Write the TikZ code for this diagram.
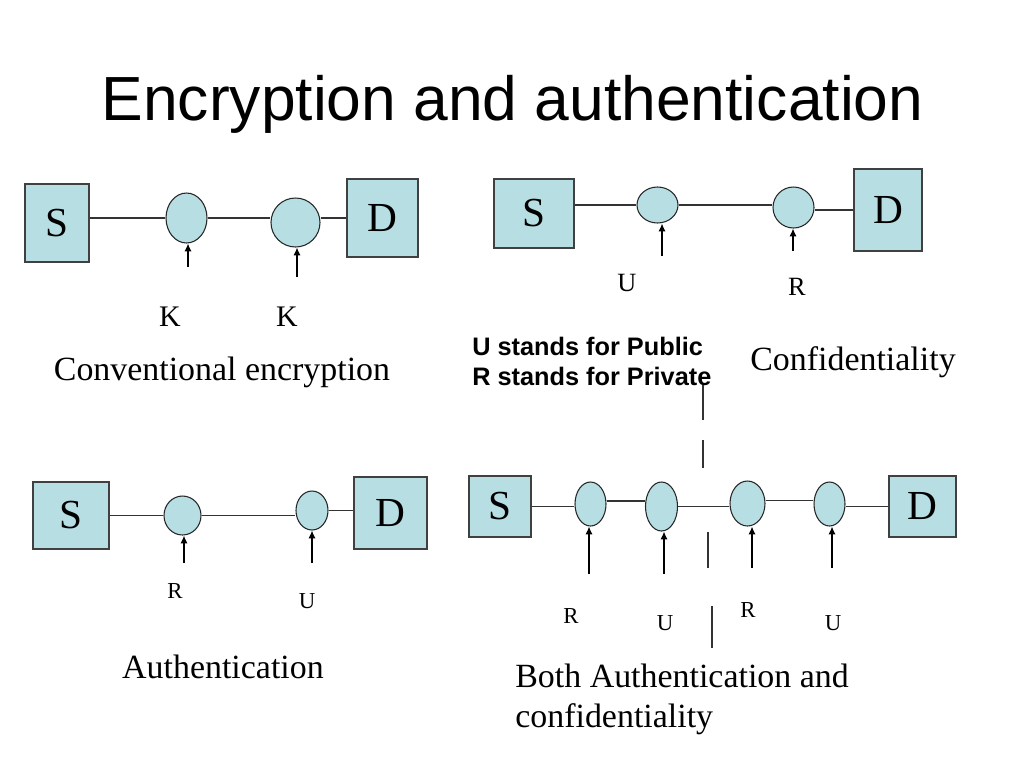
\documentclass[tikz,border=0pt]{standalone}
\usepackage{fontspec}
\setmainfont{Liberation Serif}
\newfontfamily\arialfont{Liberation Sans}
\usetikzlibrary{positioning}
\usetikzlibrary{shapes}
\usetikzlibrary{arrows.meta}
\definecolor{boxblue}{RGB}{183,222,227}

\begin{document}
\begin{tikzpicture}[x=0.02cm,y=-0.02cm,
    wh/.style 2 args={minimum width=#1*0.02cm,minimum height=#2*0.02cm},
    party/.style={draw=black!75,line width=0.7pt,fill=boxblue,inner sep=0pt,font=\fontsize{23.5}{24}\selectfont},
    cipher/.style={ellipse,draw=black!85,line width=0.6pt,fill=boxblue,inner sep=0pt},
    wire/.style={draw=black!80,line width=0.6pt},
    keyarrow/.style={-{Latex[length=4.5pt,width=4.2pt]},line width=0.8pt},
    keylabel/.style={anchor=base,inner sep=0pt,font=\fontsize{13}{13}\selectfont},
    caption/.style={anchor=base,inner sep=0pt,font=\fontsize{19.3}{23}\selectfont}]
    \path[fill=white] (0,0) rectangle (1024,768);
    \useasboundingbox (0,0) rectangle (1024,768);

    \node[anchor=base,inner sep=0pt,font=\arialfont\fontsize{35.5}{40}\selectfont] (title) at (512.5,120) {Encryption and authentication};

    % Conventional encryption
    \node[party,wh={64}{78}] (s1) at (57,223) {S};
    \node[cipher,wh={41}{50}] (k1a) at (186.5,218) {};
    \node[cipher,wh={49}{49}] (k1b) at (295.5,222.5) {};
    \node[party,wh={71}{78}] (d1) at (382.5,218) {D};
    \draw[wire] (s1.east |- k1a) -- (k1a.west);
    \draw[wire] (k1a.east) -- (k1b.west |- k1a);
    \draw[wire] (k1b.east |- d1) -- (d1.west);
    \coordinate (p1a) at (188,267);
    \coordinate (p1b) at (297,277);
    \draw[keyarrow] (p1a) -- (p1a |- k1a.south);
    \draw[keyarrow] (p1b) -- (p1b |- k1b.south);
    \node[keylabel,font=\fontsize{17}{17}\selectfont] (l1a) at (170,326) {K};
    \node[keylabel,font=\fontsize{17}{17}\selectfont] (l1b) at (287,326) {K};
    \node[caption] (cap1) at (222,380) {Conventional encryption};

    % Confidentiality
    \node[party,wh={80}{69}] (s2) at (534,213.5) {S};
    \node[cipher,wh={41}{36}] (k2a) at (657.5,205) {};
    \node[cipher,wh={41}{41}] (k2b) at (793.5,207.5) {};
    \node[party,wh={68}{82}] (d2) at (888,210) {D};
    \draw[wire] (s2.east |- k2a) -- (k2a.west);
    \draw[wire] (k2a.east) -- (k2b.west |- k2a);
    \draw[wire] (k2b.east |- d2) -- (d2.west);
    \coordinate (p2a) at (662,256);
    \coordinate (p2b) at (793,251);
    \draw[keyarrow] (p2a) -- (p2a |- k2a.south);
    \draw[keyarrow] (p2b) -- (p2b |- k2b.south);
    \node[keylabel,font=\fontsize{15}{15}\selectfont] (l2a) at (627,291) {U};
    \node[keylabel,font=\fontsize{15}{15}\selectfont] (l2b) at (797,295) {R};
    \node[caption] (cap2) at (853,370) {Confidentiality};

    % Legend
    \node[anchor=base west,inner sep=0pt,font=\arialfont\bfseries\fontsize{14.4}{17}\selectfont] (legU) at (472,355) {U stands for Public};
    \node[anchor=base west,inner sep=0pt,font=\arialfont\bfseries\fontsize{14.4}{17}\selectfont] (legR) at (472,385) {R stands for Private};

    % Stray vertical strokes
    \coordinate (v1a) at (703,385); \coordinate (v1b) at (703,420);
    \coordinate (v2a) at (703,440); \coordinate (v2b) at (703,468);
    \coordinate (v3a) at (708,532); \coordinate (v3b) at (708,568);
    \coordinate (v4a) at (712,606); \coordinate (v4b) at (712,648);
    \draw[wire] (v1a) -- (v1b);
    \draw[wire] (v2a) -- (v2b);
    \draw[wire] (v3a) -- (v3b);
    \draw[wire] (v4a) -- (v4b);

    % Authentication
    \node[party,wh={76}{67}] (s3) at (71,515.5) {S};
    \node[cipher,wh={37}{39}] (k3a) at (182.5,515.5) {};
    \node[cipher,wh={32}{39}] (k3b) at (312,510.5) {};
    \node[party,wh={73}{72}] (d3) at (390.5,513) {D};
    \draw[wire] (s3.east |- k3a) -- (k3a.west);
    \draw[wire] (k3a.east) -- (k3b.west |- k3a);
    \draw[wire] (k3b.east) -- (k3b.east -| d3.west);
    \coordinate (p3a) at (184,563);
    \coordinate (p3b) at (312,563);
    \draw[keyarrow] (p3a) -- (p3a |- k3a.south);
    \draw[keyarrow] (p3b) -- (p3b |- k3b.south);
    \node[keylabel] (l3a) at (175,598) {R};
    \node[keylabel] (l3b) at (307,608) {U};
    \node[caption] (cap3) at (223,678) {Authentication};

    % Both authentication and confidentiality
    \node[party,wh={62}{61}] (s4) at (500,506.5) {S};
    \node[cipher,wh={31}{44}] (k4a) at (590.5,504) {};
    \node[cipher,wh={32}{49}] (k4b) at (661.5,506.5) {};
    \node[cipher,wh={35}{45}] (k4c) at (747.5,503.5) {};
    \node[cipher,wh={31}{44}] (k4d) at (829.5,504) {};
    \node[party,wh={67}{61}] (d4) at (922.5,506.5) {D};
    \draw[wire] (s4.east) -- (s4.east -| k4a.west);
    \draw[wire] ([yshift=0.06cm]k4a.east) -- ([yshift=0.06cm]k4a.east -| k4b.west);
    \draw[wire] (k4b.east) -- (k4b.east -| k4c.west);
    \draw[wire] ([yshift=0.06cm]k4c.east) -- ([yshift=0.06cm]k4c.east -| k4d.west);
    \draw[wire] (k4d.east |- d4) -- (d4.west);
    \coordinate (p4a) at (589,574);
    \coordinate (p4b) at (664,574);
    \coordinate (p4c) at (752,568);
    \coordinate (p4d) at (832,568);
    \draw[keyarrow] (p4a) -- (p4a |- k4a.south);
    \draw[keyarrow] (p4b) -- (p4b |- k4b.south);
    \draw[keyarrow] (p4c) -- (p4c |- k4c.south);
    \draw[keyarrow] (p4d) -- (p4d |- k4d.south);
    \node[keylabel] (l4a) at (571,623) {R};
    \node[keylabel] (l4b) at (665,630) {U};
    \node[keylabel] (l4c) at (748,617) {R};
    \node[keylabel] (l4d) at (833,630) {U};
    \node[caption,anchor=base west] (cap4a) at (515,687) {Both Authentication and};
    \node[caption,anchor=base west] (cap4b) at (515,727) {confidentiality};
\end{tikzpicture}
\end{document}
